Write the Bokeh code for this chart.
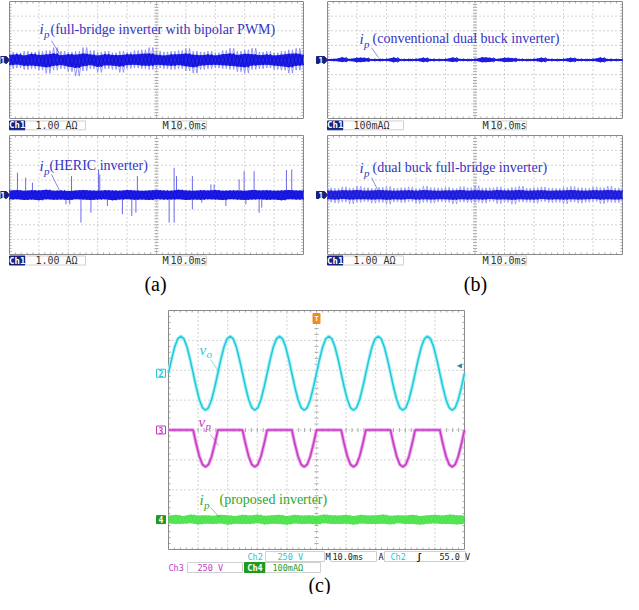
import numpy as np
from bokeh.plotting import figure
from bokeh.layouts import column, row
from bokeh.models import Label, Range1d
from bokeh.embed import file_html
from bokeh.resources import INLINE

# ---------------- data (vertical: divisions, time: ms, 10 ms/div) ----------------
t_noise = np.linspace(0, 100, 41)   # scope sample grid for the noise envelopes
t_wave = np.linspace(0, 100, 97)    # scope sample grid for vo / vp

# (a) top: full-bridge inverter with bipolar PWM -- extremes and dense core
a1_hi = [.55, .5, .6, .55, .6, .65, .85, .6, .55, .6, .85, .65, .55, .6, .5, .6, .55, .65, .7, .85, .6,
         .55, .6, .65, .8, .6, .55, .6, .5, .65, .8, .6, .7, .8, .55, .6, .5, .6, .7, .8, .6]
a1_lo = [-.6, -.55, -.65, -.6, -.7, -.9, -.7, -.6, -.8, -1.1, -.75, -.6, -.85, -.6, -.65, -.85, -.6, -.55, -.6, -.65, -.55,
         -.6, -.65, -.6, -.75, -.9, -.65, -.6, -.55, -.6, -.65, -.8, -.9, -.65, -.6, -.55, -.65, -.7, -.9, -.7, -.6]
a1_core_hi = [.35, .4, .3, .42, .35, .38, .45, .32, .4, .36, .44, .38, .3, .4, .35, .33, .4, .38, .42, .45, .35,
              .3, .38, .4, .44, .36, .32, .38, .3, .4, .45, .35, .42, .4, .33, .38, .3, .36, .42, .44, .35]
a1_core_lo = [-.35, -.3, -.4, -.38, -.42, -.5, -.4, -.35, -.45, -.55, -.42, -.35, -.48, -.36, -.38, -.45, -.35, -.32, -.38, -.4, -.33,
              -.36, -.4, -.35, -.42, -.5, -.38, -.35, -.32, -.36, -.4, -.45, -.5, -.38, -.35, -.32, -.38, -.42, -.5, -.4, -.35]

# (b) top: conventional dual buck inverter
b1_hi = [.06, .07, .18, .06, .16, .15, .05, .06, .07, .17, .05, .06, .07, .16, .06, .05, .07, .17, .06, .05, .07,
         .18, .15, .06, .16, .14, .06, .05, .07, .16, .06, .05, .07, .15, .06, .05, .07, .17, .06, .05, .06]
b1_lo = [-.05, -.06, -.14, -.05, -.15, -.12, -.05, -.06, -.05, -.15, -.05, -.06, -.05, -.14, -.06, -.05, -.06, -.13, -.05, -.06, -.05,
         -.15, -.13, -.05, -.14, -.12, -.05, -.06, -.05, -.14, -.05, -.06, -.05, -.13, -.05, -.06, -.05, -.15, -.06, -.05, -.05]

# (a) bottom: HERIC inverter -- band plus switching spikes
a2_hi = [.3, .33, .28, .32, .3, .35, .29, .31, .27, .3, .33, .3, .28, .32, .3, .29, .34, .3, .28, .31, .33,
         .3, .29, .35, .3, .28, .32, .3, .33, .29, .31, .3, .28, .34, .3, .32, .29, .31, .33, .3, .3]
a2_lo = [-.3, -.28, -.33, -.3, -.35, -.29, -.32, -.3, -.34, -.28, -.3, -.33, -.31, -.29, -.35, -.3, -.28, -.32, -.3, -.34, -.29,
         -.31, -.3, -.28, -.33, -.3, -.32, -.29, -.3, -.34, -.28, -.31, -.33, -.3, -.29, -.32, -.3, -.35, -.28, -.31, -.3]
heric_up_t = [2.7, 5.5, 7.8, 21.1, 30.3, 30.7, 43.5, 56.0, 56.8, 62.2, 68.5, 69.6, 78.1, 79.8, 83.2, 94.2, 96.0]
heric_up_v = [1.5, 1.16, .83, 1.27, 1.72, 1.38, 1.27, 1.83, 1.27, 1.27, .71, .71, 1.05, 1.6, 1.6, 1.68, 1.72]
heric_dn_t = [19.2, 20.5, 24.3, 27.7, 33.3, 38.4, 41.6, 43.0, 54.3, 56.0, 62.2, 65.4, 73.6, 80.4, 84.9, 85.8]
heric_dn_v = [-.63, -.63, -1.86, -1.19, -.74, -1.3, -1.41, -1.19, -1.86, -1.86, -.96, -.52, -.74, -.63, -1.19, -.85]

# (b) bottom: dual buck full-bridge inverter
b2_hi = [.5, .45, .55, .48, .6, .5, .45, .52, .58, .47, .5, .55, .45, .6, .5, .48, .53, .45, .57, .5, .62,
         .48, .5, .55, .45, .52, .6, .47, .5, .55, .48, .45, .52, .58, .5, .46, .55, .5, .6, .48, .5]
b2_lo = [-.5, -.55, -.48, -.6, -.5, -.45, -.55, -.5, -.62, -.48, -.52, -.45, -.58, -.5, -.55, -.47, -.5, -.6, -.48, -.52, -.5,
         -.55, -.45, -.58, -.5, -.62, -.48, -.5, -.55, -.46, -.52, -.5, -.6, -.48, -.55, -.5, -.45, -.58, -.5, -.52, -.5]
b2_core_hi = [.3, .28, .32, .3, .34, .29, .3, .33, .31, .28, .3, .32, .29, .33, .3, .28, .31, .3, .34, .29, .32,
              .3, .28, .33, .3, .31, .34, .29, .3, .32, .28, .3, .31, .33, .3, .29, .32, .3, .34, .3, .3]
b2_core_lo = [-.28, -.3, -.27, -.31, -.29, -.28, -.3, -.28, -.32, -.29, -.3, -.27, -.31, -.29, -.3, -.28, -.29, -.32, -.28, -.3, -.29,
              -.31, -.27, -.3, -.29, -.32, -.28, -.3, -.31, -.27, -.3, -.29, -.31, -.28, -.3, -.29, -.27, -.31, -.29, -.3, -.28]

# (c) proposed inverter: vo (Ch2), vp (Ch3), ip (Ch4)
vo = [0, .47, .88, 1.15, 1.24, 1.15, .88, .47, 0, -.47, -.88, -1.15, -1.24, -1.15, -.88, -.47,
      0, .47, .88, 1.15, 1.24, 1.15, .88, .47, 0, -.47, -.88, -1.15, -1.24, -1.15, -.88, -.47,
      0, .47, .88, 1.15, 1.24, 1.15, .88, .47, 0, -.47, -.88, -1.15, -1.24, -1.15, -.88, -.47,
      0, .47, .88, 1.15, 1.24, 1.15, .88, .47, 0, -.47, -.88, -1.15, -1.24, -1.15, -.88, -.47,
      0, .47, .88, 1.15, 1.24, 1.15, .88, .47, 0, -.47, -.88, -1.15, -1.24, -1.15, -.88, -.47,
      0, .47, .88, 1.15, 1.24, 1.15, .88, .47, 0, -.47, -.88, -1.15, -1.24, -1.15, -.88, -.47,
      0]
vp = [0, 0, 0, 0, 0, 0, 0, 0, 0, -.47, -.88, -1.15, -1.24, -1.15, -.88, -.47,
      0, 0, 0, 0, 0, 0, 0, 0, 0, -.47, -.88, -1.15, -1.24, -1.15, -.88, -.47,
      0, 0, 0, 0, 0, 0, 0, 0, 0, -.47, -.88, -1.15, -1.24, -1.15, -.88, -.47,
      0, 0, 0, 0, 0, 0, 0, 0, 0, -.47, -.88, -1.15, -1.24, -1.15, -.88, -.47,
      0, 0, 0, 0, 0, 0, 0, 0, 0, -.47, -.88, -1.15, -1.24, -1.15, -.88, -.47,
      0, 0, 0, 0, 0, 0, 0, 0, 0, -.47, -.88, -1.15, -1.24, -1.15, -.88, -.47,
      0]
c_hi = [.14, .16, .12, .17, .14, .15, .13, .16, .15, .12, .16, .14, .17, .13, .15, .16, .12, .16, .14, .15, .13,
        .17, .15, .14, .16, .12, .16, .14, .15, .17, .13, .15, .14, .16, .12, .15, .16, .14, .17, .15, .14]
c_lo = [-.13, -.15, -.14, -.12, -.16, -.14, -.15, -.13, -.17, -.14, -.15, -.15, -.12, -.16, -.14, -.15, -.17, -.13, -.15, -.14, -.16,
        -.12, -.15, -.15, -.14, -.17, -.13, -.15, -.15, -.14, -.16, -.12, -.15, -.15, -.17, -.14, -.13, -.15, -.15, -.16, -.14]

OFF_VO, OFF_VP, OFF_IP = 1.9, 0.0, -3.0

# ---------------- styling ----------------
NAVY = "#17217c"
GRID = "#a8a8a8"
BORDER = "#8a8a8a"
SERIF = "Liberation Serif"
MONO = "DejaVu Sans Mono"
BLUE_TXT = "#3434c4"
CYAN = "#24c8d8"
MAGENTA = "#c23cc2"
GREEN = "#26c426"


def scope(W, H, scr_ref, scr_loc):
    L, T, R, B = scr_ref
    l, t, r, b = scr_loc
    ppx = (r - l) / 100.0
    ppy = (b - t) / 8.0
    p = figure(width=W, height=H,
               x_range=Range1d(-l / ppx, 100 + (W - r) / ppx),
               y_range=Range1d(-4 - (H - b) / ppy, 4 + t / ppy),
               output_backend="svg", toolbar_location=None, min_border=0,
               x_axis_type=None, y_axis_type=None, outline_line_color=None,
               background_fill_color="white", border_fill_color="white")
    X = lambda rx: (rx - L) / (R - L) * 100.0
    Y = lambda ry: 4.0 - (ry - T) / (B - T) * 8.0
    sx = 100.0 / (R - L)
    sy = 8.0 / (B - T)
    gx = np.arange(10, 100, 10)
    gy = np.arange(-3, 4, 1)
    p.segment(x0=gx, y0=-4, x1=gx, y1=4, line_color=GRID, line_width=1, line_dash="1 3")
    p.segment(x0=0, y0=gy, x1=100, y1=gy, line_color=GRID, line_width=1, line_dash="1 3")
    mx = np.arange(2, 100, 2)
    my = np.arange(-3.8, 3.9, 0.2)
    tk = dict(line_color=GRID, line_width=1)
    p.segment(x0=mx, y0=-2 * sy, x1=mx, y1=2 * sy, **tk)
    p.segment(x0=50 - 2 * sx, y0=my, x1=50 + 2 * sx, y1=my, **tk)
    p.segment(x0=mx, y0=4, x1=mx, y1=4 - 2 * sy, **tk)
    p.segment(x0=mx, y0=-4, x1=mx, y1=-4 + 2 * sy, **tk)
    p.segment(x0=0, y0=my, x1=2 * sx, y1=my, **tk)
    p.segment(x0=100, y0=my, x1=100 - 2 * sx, y1=my, **tk)
    p.quad(left=0, right=100, bottom=-4, top=4, fill_color=None, line_color=BORDER, line_width=1)
    return p, X, Y, sx, sy


def lab(p, x, y, text, size, color, font=MONO, style="normal", align="left"):
    p.add_layout(Label(x=x, y=y, text=text, text_font_size=f"{size}px", text_color=color,
                       text_font=font, text_font_style=style, text_align=align,
                       text_baseline="middle"))


def box(p, X, Y, x0, y0, x1, y1, fill, line):
    p.quad(left=X(x0), right=X(x1), top=Y(y0), bottom=Y(y1), fill_color=fill, line_color=line, line_width=1)


def zigzag(p, t, hi, lo, off, color, width=1.0, alpha=1.0):
    h = (t[1] - t[0]) / 2.0
    for first, second in ((hi, lo), (lo, hi)):
        xs, ys = [], []
        for ti, a, b in zip(t, first, second):
            for xx, yy in ((ti, a), (ti + h, b)):
                if xx <= 100:
                    xs.append(xx)
                    ys.append(yy + off)
        p.line(xs, ys, line_color=color, line_width=width, line_alpha=alpha)


def band(p, t, hi, lo, off, color, alpha=1.0):
    p.varea(x=t, y1=np.array(lo) + off, y2=np.array(hi) + off, fill_color=color, fill_alpha=alpha)


def arrow_mark(p, X, Y, L, yoff, sy, num):
    xs = [X(L - 11), X(L - 3), X(L), X(L - 3), X(L - 11)]
    ys = [yoff + 3.5 * sy, yoff + 3.5 * sy, yoff, yoff - 3.5 * sy, yoff - 3.5 * sy]
    p.patch(xs, ys, fill_color=NAVY, line_color=NAVY)
    lab(p, X(L - 6.5), yoff, num, 8, "white", MONO, "bold", "center")


def annot(p, X, Y, x, y, sym, sub, rest, color, dx, leader, size=14):
    lab(p, X(x), Y(y), sym, size + 1, color, SERIF, "italic")
    lab(p, X(x + 4.5), Y(y + 5), sub, size - 3, color, SERIF, "italic")
    lab(p, X(x + dx), Y(y), rest, size, color, SERIF)
    (x0, y0), (x1, y1) = leader
    p.line([X(x0), X(x1)], [Y(y0), Y(y1)], line_color=color, line_width=0.8, line_alpha=0.7)


def ch1_row(p, X, Y, y, x0, val, mx):
    box(p, X, Y, x0, y - 4.5, x0 + 15.5, y + 4.5, NAVY, NAVY)
    lab(p, X(x0 + 7.75), Y(y), "Ch1", 9, "white", MONO, "bold", "center")
    box(p, X, Y, x0 + 16, y - 4.5, x0 + 76, y + 4.5, "white", "#d0d0d0")
    lab(p, X(x0 + 26), Y(y), val, 10, "#333333")
    lab(p, X(mx), Y(y), "M", 10, "#333333")
    box(p, X, Y, mx + 6, y - 4.5, mx + 44, y + 4.5, "white", "#d0d0d0")
    lab(p, X(mx + 8), Y(y), "10.0ms", 10, "#333333")


# ---------------- (a) top ----------------
a1, X, Y, sx, sy = scope(312, 132, (17, 5, 311, 124), (9, 1, 303, 118))
zigzag(a1, t_noise, a1_hi, a1_lo, 0, "#8c8cf2", 1.0, 0.9)
band(a1, t_noise, a1_core_hi, a1_core_lo, 0, "#2424e4")
zigzag(a1, t_noise, a1_core_hi, a1_core_lo, 0, "#1010d8", 1.0)
arrow_mark(a1, X, Y, 17, 0, sy, "1")
annot(a1, X, Y, 47, 33, "i", "p", "(full-bridge inverter with bipolar PWM)", BLUE_TXT, 11,
      ((59, 45), (67, 58)))
ch1_row(a1, X, Y, 131, 17, "1.00 A\u03a9", 170)

# ---------------- (b) top ----------------
b1, X, Y, sx, sy = scope(311, 132, (335, 5, 630, 124), (15, 1, 310, 118))
band(b1, t_noise, b1_hi, b1_lo, 0, "#2020e0")
zigzag(b1, t_noise, b1_hi, b1_lo, 0, "#1818dc", 1.0)
arrow_mark(b1, X, Y, 335, 0, sy, "1")
annot(b1, X, Y, 367, 43, "i", "p", "(conventional dual buck inverter)", BLUE_TXT, 13,
      ((379, 52), (386, 62)))
ch1_row(b1, X, Y, 131, 335, "100mA\u03a9", 490)

# ---------------- (a) bottom ----------------
a2, X, Y, sx, sy = scope(312, 165, (17, 143, 311, 262), (9, 3, 303, 122))
a2.segment(x0=heric_up_t, y0=0, x1=heric_up_t, y1=heric_up_v, line_color="#6a6ae8", line_width=1)
a2.segment(x0=heric_dn_t, y0=0, x1=heric_dn_t, y1=heric_dn_v, line_color="#6a6ae8", line_width=1)
band(a2, t_noise, a2_hi, a2_lo, 0, "#1c1ce6")
zigzag(a2, t_noise, a2_hi, a2_lo, 0, "#1414dc", 1.0)
arrow_mark(a2, X, Y, 17, 0, sy, "1")
annot(a2, X, Y, 47, 173, "i", "p", "(HERIC inverter)", BLUE_TXT, 10, ((59, 182), (67, 198)))
ch1_row(a2, X, Y, 268, 17, "1.00 A\u03a9", 170)
lab(a2, X(163), Y(291), "(a)", 20, "black", SERIF, "normal", "center")

# ---------------- (b) bottom ----------------
b2, X, Y, sx, sy = scope(311, 165, (335, 143, 630, 262), (15, 3, 310, 122))
zigzag(b2, t_noise, b2_hi, b2_lo, 0, "#9a9af0", 1.0, 0.9)
band(b2, t_noise, b2_core_hi, b2_core_lo, 0, "#2a2ae2")
zigzag(b2, t_noise, b2_core_hi, b2_core_lo, 0, "#1818d8", 1.0)
arrow_mark(b2, X, Y, 335, 0, sy, "1")
annot(b2, X, Y, 367, 175, "i", "p", "(dual buck full-bridge inverter)", BLUE_TXT, 13,
      ((379, 185), (386, 199)))
ch1_row(b2, X, Y, 268, 335, "1.00 A\u03a9", 490)
lab(b2, X(483), Y(291), "(b)", 20, "black", SERIF, "normal", "center")

# ---------------- (c) ----------------
c, X, Y, sx, sy = scope(623, 297, (176, 318, 472, 557), (168, 13, 464, 252))
c.line(t_wave, np.array(vo) + OFF_VO, line_color="#a6f2f6", line_width=3.5)
c.line(t_wave, np.array(vo) + OFF_VO, line_color=CYAN, line_width=1.5)
c.line(t_wave, np.array(vp) + OFF_VP, line_color="#eca0ec", line_width=3.5)
c.line(t_wave, np.array(vp) + OFF_VP, line_color=MAGENTA, line_width=1.5)
zigzag(c, t_noise, c_hi, c_lo, OFF_IP, "#8cf08c", 1.0, 0.9)
band(c, t_noise, c_hi, c_lo, OFF_IP, "#3ee03e", 0.85)

# channel markers
for yoff, num, fill, line, tc in ((OFF_VO, "2", "white", CYAN, CYAN),
                                  (OFF_VP, "3", "white", MAGENTA, MAGENTA),
                                  (OFF_IP, "4", "#1f9a1f", "#1f9a1f", "white")):
    c.quad(left=X(164), right=X(173), bottom=yoff - 4 * sy, top=yoff + 4 * sy,
           fill_color=fill, line_color=line, line_width=1)
    lab(c, X(168.5), yoff, num, 8, tc, MONO, "bold", "center")
# trigger position / level markers
c.quad(left=X(320.5), right=X(327.5), top=Y(321), bottom=Y(331), fill_color="#f08c1e", line_color="#f08c1e")
lab(c, X(324), Y(326), "T", 7, "white", MONO, "bold", "center")
lab(c, X(467), Y(373), "\u25c0", 8, "#1a8898", MONO, "normal", "center")

# annotations
lab(c, X(207), Y(357), "v", 15, CYAN, SERIF, "italic")
lab(c, X(214), Y(361), "o", 11, CYAN, SERIF, "italic")
c.line([X(218), X(227)], [Y(367), Y(380)], line_color=CYAN, line_width=0.8, line_alpha=0.7)
lab(c, X(206), Y(429), "v", 15, MAGENTA, SERIF, "italic")
lab(c, X(213), Y(433), "p", 11, MAGENTA, SERIF, "italic")
c.line([X(218), X(226)], [Y(442), Y(453)], line_color=MAGENTA, line_width=0.8, line_alpha=0.7)
annot(c, X, Y, 207, 507, "i", "p", "(proposed inverter)", "#2aa82a", 20, ((218, 515), (227, 525)))

# readout rows
r1, r2 = 564, 575
lab(c, X(255), Y(r1), "Ch2", 8.5, CYAN)
box(c, X, Y, 273, r1 - 5, 332, r1 + 5, "white", "#d0d0d0")
lab(c, X(285), Y(r1), "250 V", 8.5, CYAN)
lab(c, X(333), Y(r1), "M", 8.5, "#222222")
box(c, X, Y, 338, r1 - 5, 384, r1 + 5, "white", "#d0d0d0")
lab(c, X(340), Y(r1), "10.0ms", 8.5, "#222222")
lab(c, X(386), Y(r1), "A", 8.5, "#222222")
box(c, X, Y, 392, r1 - 5, 473, r1 + 5, "white", "#d0d0d0")
lab(c, X(398), Y(r1), "Ch2", 8.5, CYAN)
lab(c, X(424), Y(r1), "\u0283", 8.5, "#222222", MONO, "bold")
lab(c, X(447), Y(r1), "55.0 V", 8.5, "#222222")
lab(c, X(176), Y(r2), "Ch3", 8.5, MAGENTA)
box(c, X, Y, 195, r2 - 5, 250, r2 + 5, "white", "#d0d0d0")
lab(c, X(205), Y(r2), "250 V", 8.5, MAGENTA)
box(c, X, Y, 252, r2 - 5, 273, r2 + 5, "#1f9a1f", "#1f9a1f")
lab(c, X(262.5), Y(r2), "Ch4", 8.5, "white", MONO, "bold", "center")
box(c, X, Y, 273, r2 - 5, 328, r2 + 5, "white", "#d0d0d0")
lab(c, X(280), Y(r2), "100mA\u03a9", 8.5, "#2a9a2a")
lab(c, X(327), Y(592), "(c)", 20, "black", SERIF, "normal", "center")

layout = column(row(a1, b1), row(a2, b2), c)
open("out.html", "w").write(file_html(layout, INLINE))
